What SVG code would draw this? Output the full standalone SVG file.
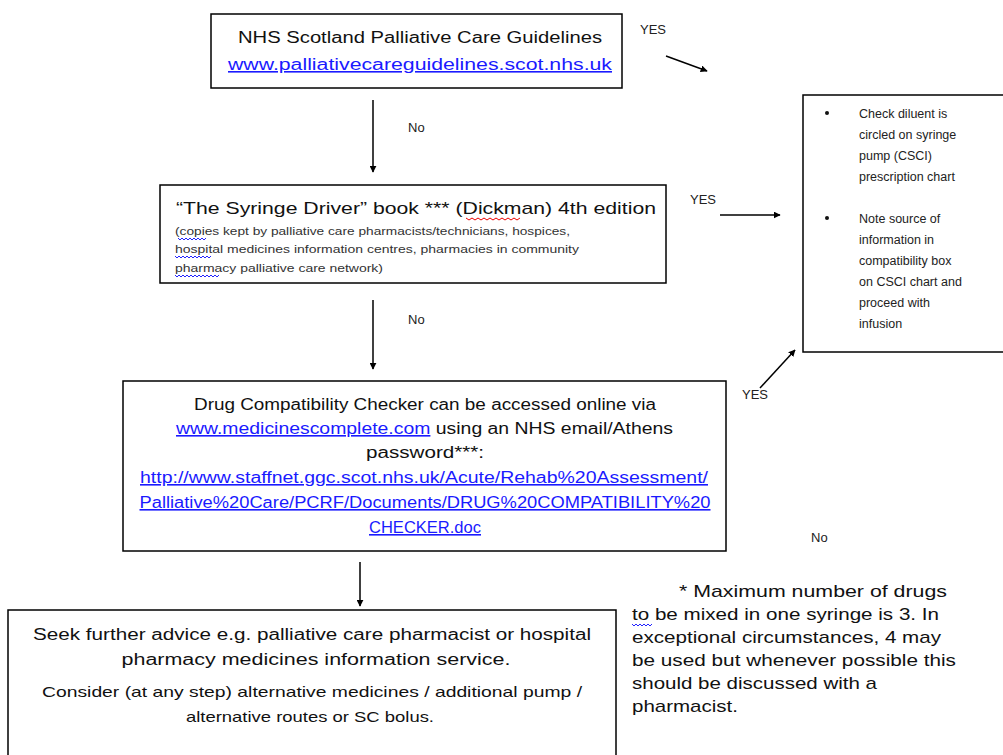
<svg xmlns="http://www.w3.org/2000/svg" width="1003" height="755" viewBox="0 0 1003 755">
<defs>
<style>
.box{fill:#fff;stroke:#000;stroke-width:1.5}
text{font-family:"Liberation Sans",Arial,sans-serif;fill:#111}
.t{font-size:16px}
.s{font-size:11px;fill:#333}
.r{font-size:12.5px;fill:#222}
.lbl{font-size:13px;fill:#222}
.lk{fill:#1a1aff;text-decoration:underline}
.conn line{stroke:#000;stroke-width:1.5}
.sq{fill:none;stroke-width:1}
</style>
<marker id="ah" viewBox="0 0 10 10" refX="9" refY="5" markerWidth="7" markerHeight="7" orient="auto" markerUnits="userSpaceOnUse">
<path d="M0,0 L10,5 L0,10 z" fill="#000"/>
</marker>
</defs>
<rect width="1003" height="755" fill="#fff"/>

<g id="node-nhs">
<rect class="box" x="211" y="14" width="411" height="74"/>
<text class="t" x="420" y="43" text-anchor="middle" textLength="364" lengthAdjust="spacingAndGlyphs">NHS Scotland Palliative Care Guidelines</text>
<text class="t lk" x="420" y="70" text-anchor="middle" textLength="384" lengthAdjust="spacingAndGlyphs">www.palliativecareguidelines.scot.nhs.uk</text>
</g>

<g id="node-book">
<rect class="box" x="160" y="185" width="506" height="98"/>
<text x="176" y="214" style="font-size:17px" textLength="480" lengthAdjust="spacingAndGlyphs">“The Syringe Driver” book *** (Dickman) 4th edition</text>
<text class="s" x="175" y="235" textLength="395" lengthAdjust="spacingAndGlyphs">(copies kept by palliative care pharmacists/technicians, hospices,</text>
<text class="s" x="175" y="253" textLength="404" lengthAdjust="spacingAndGlyphs">hospital medicines information centres, pharmacies in community</text>
<text class="s" x="175" y="272" textLength="208" lengthAdjust="spacingAndGlyphs">pharmacy palliative care network)</text>
<path class="sq" stroke="#e00" d="M466,218 l3,2 l3,-2 l3,2 l3,-2 l3,2 l3,-2 l3,2 l3,-2 l3,2 l3,-2 l3,2 l3,-2 l3,2 l3,-2 l3,2 l3,-2 l3,2 l3,-2"/>
<path class="sq" stroke="#22f" d="M178,238 l2,2 l2,-2 l2,2 l2,-2 l2,2 l2,-2 l2,2 l2,-2 l2,2 l2,-2 l2,2 l2,-2 l2,2 l2,-2"/>
<path class="sq" stroke="#22f" d="M175,256 l2,2 l2,-2 l2,2 l2,-2 l2,2 l2,-2 l2,2 l2,-2 l2,2 l2,-2 l2,2 l2,-2 l2,2 l2,-2 l2,2 l2,-2 l2,2 l2,-2"/>
<path class="sq" stroke="#22f" d="M175,275 l2,2 l2,-2 l2,2 l2,-2 l2,2 l2,-2 l2,2 l2,-2 l2,2 l2,-2 l2,2 l2,-2 l2,2 l2,-2 l2,2 l2,-2 l2,2 l2,-2 l2,2 l2,-2 l2,2 l2,-2"/>
</g>

<g id="node-proceed">
<rect class="box" x="803" y="95" width="210" height="257"/>
<circle cx="827" cy="113" r="2" fill="#111"/>
<text class="r" x="859" y="118">Check diluent is</text>
<text class="r" x="859" y="139">circled on syringe</text>
<text class="r" x="859" y="160">pump (CSCI)</text>
<text class="r" x="859" y="181">prescription chart</text>
<circle cx="827" cy="218" r="2" fill="#111"/>
<text class="r" x="859" y="223">Note source of</text>
<text class="r" x="859" y="244">information in</text>
<text class="r" x="859" y="265">compatibility box</text>
<text class="r" x="859" y="286">on CSCI chart and</text>
<text class="r" x="859" y="307">proceed with</text>
<text class="r" x="859" y="328">infusion</text>
</g>

<g id="node-checker">
<rect class="box" x="123" y="381" width="603" height="170"/>
<text class="t" x="425" y="410" text-anchor="middle" textLength="462" lengthAdjust="spacingAndGlyphs">Drug Compatibility Checker can be accessed online via</text>
<text class="t" x="176" y="434" textLength="497" lengthAdjust="spacingAndGlyphs"><tspan class="lk">www.medicinescomplete.com</tspan> using an NHS email/Athens</text>
<text class="t" x="425" y="458" text-anchor="middle" textLength="118" lengthAdjust="spacingAndGlyphs">password***:</text>
<text class="t lk" x="424" y="483" text-anchor="middle" textLength="568" lengthAdjust="spacingAndGlyphs">http://www.staffnet.ggc.scot.nhs.uk/Acute/Rehab%20Assessment/</text>
<text class="t lk" x="425" y="508" text-anchor="middle" textLength="571" lengthAdjust="spacingAndGlyphs">Palliative%20Care/PCRF/Documents/DRUG%20COMPATIBILITY%20</text>
<text class="t lk" x="425" y="533" text-anchor="middle" textLength="112" lengthAdjust="spacingAndGlyphs">CHECKER.doc</text>
</g>

<g id="node-advice">
<rect class="box" x="8" y="610" width="608" height="160"/>
<text class="t" x="312" y="640" text-anchor="middle" textLength="558" lengthAdjust="spacingAndGlyphs">Seek further advice e.g. palliative care pharmacist or hospital</text>
<text class="t" x="316" y="665" text-anchor="middle" textLength="389" lengthAdjust="spacingAndGlyphs">pharmacy medicines information service.</text>
<text x="312" y="697" text-anchor="middle" style="font-size:15px" textLength="540" lengthAdjust="spacingAndGlyphs">Consider (at any step) alternative medicines / additional pump /</text>
<text x="310" y="722" text-anchor="middle" style="font-size:15px" textLength="248" lengthAdjust="spacingAndGlyphs">alternative routes or SC bolus.</text>
</g>

<g id="note">
<text style="font-size:17px" x="679" y="597">
<tspan x="679" textLength="268" lengthAdjust="spacingAndGlyphs">* Maximum number of drugs</tspan>
<tspan x="632" y="620" textLength="307" lengthAdjust="spacingAndGlyphs">to be mixed in one syringe is 3. In</tspan>
<tspan x="632" y="643" textLength="309" lengthAdjust="spacingAndGlyphs">exceptional circumstances, 4 may</tspan>
<tspan x="632" y="666" textLength="324" lengthAdjust="spacingAndGlyphs">be used but whenever possible this</tspan>
<tspan x="632" y="689" textLength="245" lengthAdjust="spacingAndGlyphs">should be discussed with a</tspan>
<tspan x="632" y="712" textLength="106" lengthAdjust="spacingAndGlyphs">pharmacist.</tspan>
</text>
<path class="sq" stroke="#22f" d="M632,624 l2,2 l2,-2 l2,2 l2,-2 l2,2 l2,-2 l2,2 l2,-2 l2,2 l2,-2"/>
</g>

<g id="connectors" class="conn">
<line x1="373" y1="100" x2="373" y2="172" marker-end="url(#ah)"/>
<line x1="373" y1="300" x2="373" y2="369" marker-end="url(#ah)"/>
<line x1="360" y1="562" x2="360" y2="606" marker-end="url(#ah)"/>
<line x1="666" y1="56" x2="707" y2="71" marker-end="url(#ah)"/>
<line x1="720" y1="215" x2="780" y2="215" marker-end="url(#ah)"/>
<line x1="760" y1="388" x2="795" y2="350" marker-end="url(#ah)"/>
</g>

<g id="labels">
<text class="lbl" x="640" y="34">YES</text>
<text class="lbl" x="408" y="132">No</text>
<text class="lbl" x="690" y="204">YES</text>
<text class="lbl" x="408" y="324">No</text>
<text class="lbl" x="742" y="399">YES</text>
<text class="lbl" x="811" y="542">No</text>
</g>
</svg>
